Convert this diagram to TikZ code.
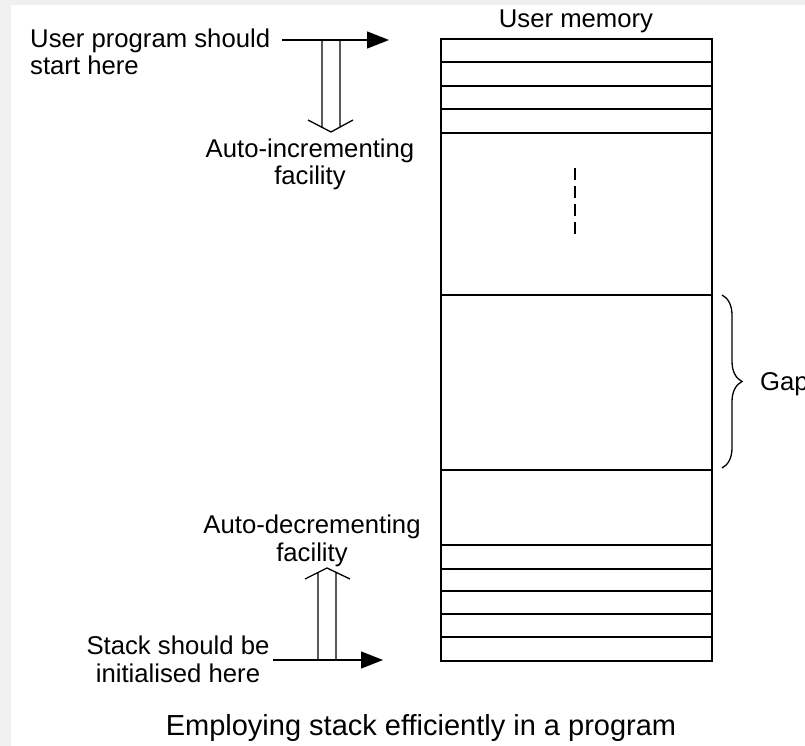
\documentclass[tikz,border=0pt]{standalone}
\usepackage{fontspec}
\setmainfont{Liberation Sans}
\usetikzlibrary{arrows.meta,decorations.pathreplacing,positioning}
\tikzset{lbl/.style={
         font=\fontsize{25.7}{27.5}\selectfont,inner sep=0pt,align=#1}}
\tikzset{pointer/.style={
         line width=1.3pt,-{Triangle[length=22pt,width=17pt]}}}
\tikzset{hollow/.style={
         line width=1.3pt,line join=miter}}
\tikzset{cell/.style={
         line width=1.3pt}}

\begin{document}
\begin{tikzpicture}[x=1pt,y=1pt]
% page
\fill[black!6] (0,0) rectangle (805,-746);
\fill[white] (11,-5) rectangle (805,-746);
\useasboundingbox (0,0) rectangle (805,-746);

% user memory
\node (mem) at (440,-38) [draw,line width=1.6pt,minimum width=271pt,minimum height=622pt,anchor=north west,inner sep=0pt] {};
\foreach \y in {62,86,109,133} {\draw [cell] (mem.west |- 0,-\y) -- (mem.east |- 0,-\y);} %top words
\foreach \y in {295,470} {\draw [cell] (mem.west |- 0,-\y) -- (mem.east |- 0,-\y);} %gap
\foreach \y in {545,569,591,614,637} {\draw [cell] (mem.west |- 0,-\y) -- (mem.east |- 0,-\y);} %stack words
\draw [line width=1.3pt,dash pattern=on 12pt off 6pt] (575,-168) -- (575,-235);
\node (memtitle) at (576,-28) [lbl=center,anchor=base] {User memory};

% program start
\node (prog) at (30,-75) [lbl=left,anchor=base west] {User program should\\start here};
\coordinate (prog-from) at (282,-40);
\coordinate (prog-to) at (389,-40);
\draw [pointer] (prog-from) -- (prog-to);
\draw [hollow] (322,-40) -- (322,-127.3) (340,-40) -- (340,-127) (308,-120) -- (331,-132) -- (353,-120);
\node (inc) at (310,-185) [lbl=center,anchor=base] {Auto-incrementing\\facility};

% stack start
\node (stack) at (178,-682) [lbl=center,anchor=base] {Stack should be\\initialised here};
\coordinate (stack-from) at (273,-660);
\coordinate (stack-to) at (383,-660);
\draw [pointer] (stack-from) -- (stack-to);
\draw [hollow] (318,-660) -- (318,-572.5) (336,-660) -- (336,-572.3) (305,-579) -- (327,-568) -- (350,-579);
\node (dec) at (312,-561) [lbl=center,anchor=base] {Auto-decrementing\\facility};

% gap
\draw [decorate,decoration={brace,amplitude=20pt},line width=1.3pt] (722,-295) -- (722,-468);
\node (gap) at (760,-390) [lbl=left,anchor=base west] {Gap};

\node (title) at (421,-735) [font=\fontsize{29}{32}\selectfont,inner sep=0pt,anchor=base] {Employing stack efficiently in a program};
\end{tikzpicture}
\end{document}
